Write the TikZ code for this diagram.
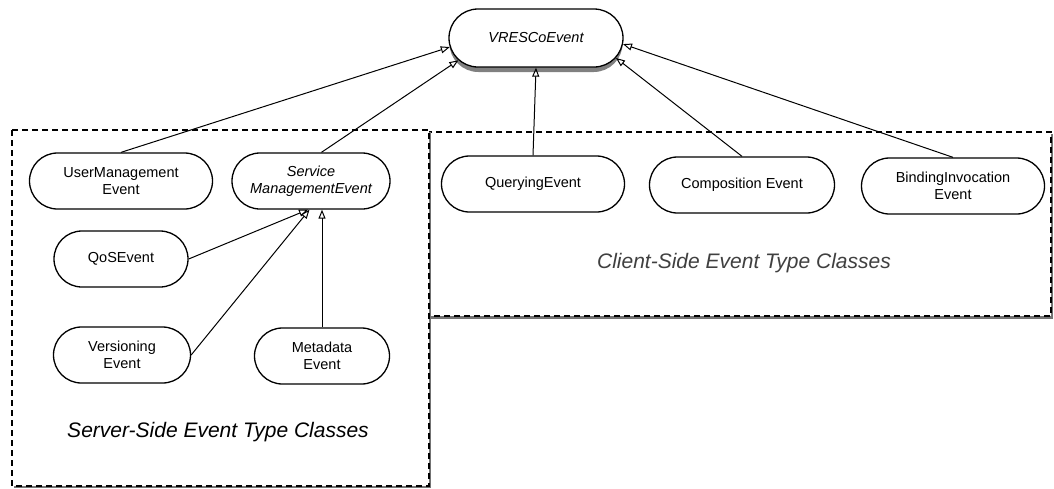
\documentclass[tikz,border=0pt]{standalone}
\usepackage{fontspec}
\setmainfont{Liberation Sans}
\usetikzlibrary{arrows.meta,shapes.misc}

\begin{document}
\begin{tikzpicture}[
	x=1pt, y=-1pt,
	event/.style={ rounded rectangle, draw, line width=1.3pt, fill=white, minimum height=56pt, inner sep=2pt,
	  align=center, font=\fontsize{14.5}{17}\selectfont },
	abstract/.style={ event, font=\fontsize{14.5}{17}\selectfont\itshape },
	group/.style={ draw, dashed, dash pattern=on 6pt off 4pt, line width=1.2pt, fill=white },
	groupshadow/.style={ fill=black!55 },
	grouplabel/.style={ font=\fontsize{21}{24}\selectfont\itshape },
	inherits/.style={ line width=1pt, -{Triangle[open,length=9pt,width=7pt,line width=1pt]} }
]
\useasboundingbox (0,0) rectangle (1054,488);

% event type groups
\fill[groupshadow] (430,134) rectangle (1053,318.5);
\draw[group] (428,132) rectangle (1051,316);
\fill[groupshadow] (14,132) rectangle (431,488);
\draw[group] (12,130) rectangle (429,486);
\node at (218,432) (serverlbl) [grouplabel] {Server-Side Event Type Classes};
\node at (744,263) (clientlbl) [grouplabel,black!75] {Client-Side Event Type Classes};

% root event, with its shadow
\node at (536,43) (vrescoshadow) [rounded rectangle, fill=black!50, minimum width=180pt, minimum height=58pt] {};
\node at (536,38) (vresco) [abstract,minimum width=178pt,minimum height=58pt] {VRESCoEvent};

% server side
\node at (121,181) (user) [event,minimum width=187pt] {UserManagement\\Event};
\node at (311,181) (service) [abstract,minimum width=162pt] {Service\\ManagementEvent};
\node at (121,259) (qos) [event,minimum width=138pt] {QoSEvent};
\node at (122,355) (versioning) [event,minimum width=141pt] {Versioning\\Event};
\node at (322,356) (metadata) [event,minimum width=139pt] {Metadata\\Event};

% client side
\node at (533,184) (querying) [event,minimum width=187pt] {QueryingEvent};
\node at (742,185) (composition) [event,minimum width=189pt] {Composition Event};
\node at (953,186) (binding) [event,minimum width=187pt] {BindingInvocation\\Event};

\draw[inherits] (user.north) -- (vresco.186);
\draw[inherits] (service.70) -- (vresco.196);
\draw[inherits] (querying.north) -- (vresco.south);
\draw[inherits] (composition.north) -- (vresco.-14);
\draw[inherits] (binding.north) -- (vresco.-4);

\draw[inherits] (qos.east) -- (service.-96);
\draw[inherits] (versioning.east) -- (service.-93);
\draw[inherits] (metadata.north) -- (metadata.north |- service.south);

\end{tikzpicture}
\end{document}
